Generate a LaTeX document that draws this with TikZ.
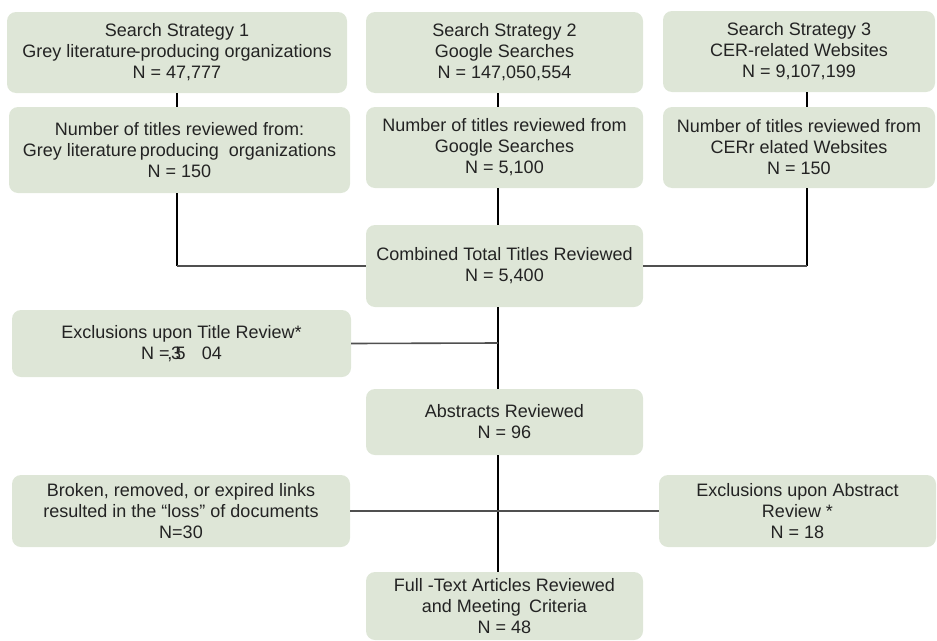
\documentclass[tikz,border=0pt]{standalone}
\usepackage{fontspec}
\setmainfont{Liberation Sans}
\definecolor{boxfill}{RGB}{222,230,215}
\definecolor{txt}{RGB}{35,35,35}
\definecolor{hline}{RGB}{80,80,80}
\begin{document}
\begin{tikzpicture}[x=1pt,y=-1pt,
  flowbox/.style={fill=boxfill,draw=none,rounded corners=9pt,align=center,inner sep=0pt,
    text=txt,font=\fontsize{18}{21}\selectfont},
  vline/.style={draw=black,line width=1.1pt},
  hrule/.style={draw=hline,line width=1.6pt}]
\useasboundingbox (0,0) rectangle (937,640);
\node[flowbox,minimum width=340pt,minimum height=81pt] (b1) at (177,52.5)
  {Search Strategy 1\\Grey literature\kern-0.1em-producing organizations\\N = 47,777};
\node[flowbox,minimum width=341pt,minimum height=86pt] (b1b) at (179.5,150)
  {Number of titles reviewed from:\\Grey literature\,producing \ organizations\\N = 150};
\node[flowbox,minimum width=277pt,minimum height=81pt] (b2) at (504.5,52.5)
  {Search Strategy 2\\Google Searches\\N = 147,050,554};
\node[flowbox,minimum width=277pt,minimum height=81pt] (b2b) at (504.5,147.5)
  {Number of titles reviewed from\\Google Searches\\N = 5,100};
\node[flowbox,minimum width=272pt,minimum height=81pt] (b3) at (799,51.5)
  {Search Strategy 3\\CER-related Websites\\N = 9,107,199};
\node[flowbox,minimum width=272pt,minimum height=81pt] (b3b) at (799,147.5)
  {Number of titles reviewed from\\CERr elated Websites\\N = 150};
\node[flowbox,minimum width=277pt,minimum height=82pt] (comb) at (504.5,266)
  {Combined Total Titles Reviewed\\N = 5,400};
\node[flowbox,minimum width=339pt,minimum height=67pt] (ex1) at (181.5,343.5)
  {Exclusions upon Title Review*\\N =\kern-0.12em,\kern-0.08em3\kern-0.3em5\hspace{0.9em}04};
\node[flowbox,minimum width=277pt,minimum height=66pt] (abs) at (504.5,422)
  {Abstracts Reviewed\\N = 96};
\node[flowbox,minimum width=338pt,minimum height=72pt] (brk) at (181,511)
  {Broken, removed, or expired links\\resulted in the “loss” of documents\\N=30};
\node[flowbox,minimum width=277pt,minimum height=72pt] (ex2) at (797.5,511)
  {Exclusions upon Abstract\\Review *\\N = 18};
\node[flowbox,minimum width=277pt,minimum height=68pt] (full) at (504.5,606)
  {Full -Text Articles Reviewed\\and Meeting \,Criteria\\N = 48};
% spine coordinates
\coordinate (s2) at (498,0);
\coordinate (s3) at (807,0);
\coordinate (j1) at (177,266);
\coordinate (j3) at (807,266);
\coordinate (jt) at (498,343);
% connectors
\draw[vline] (b1.south) -- (b1b.north -| b1.south);
\draw[vline] (b2.south -| s2) -- (b2b.north -| s2);
\draw[vline] (b3.south -| s3) -- (b3b.north -| s3);
\draw[vline] (b1b.south -| j1) -- (j1);
\draw[hrule] (j1) -- (comb.west);
\draw[vline] (b3b.south -| j3) -- (j3);
\draw[hrule] (j3) -- (comb.east);
\draw[vline] (b2b.south -| s2) -- (comb.north -| s2);
\draw[vline] (comb.south -| s2) -- (abs.north -| s2);
\draw[hrule] (ex1.east) -- (jt);
\draw[vline] (abs.south -| s2) -- (full.north -| s2);
\draw[hrule] (brk.east) -- (ex2.west);
\end{tikzpicture}
\end{document}
